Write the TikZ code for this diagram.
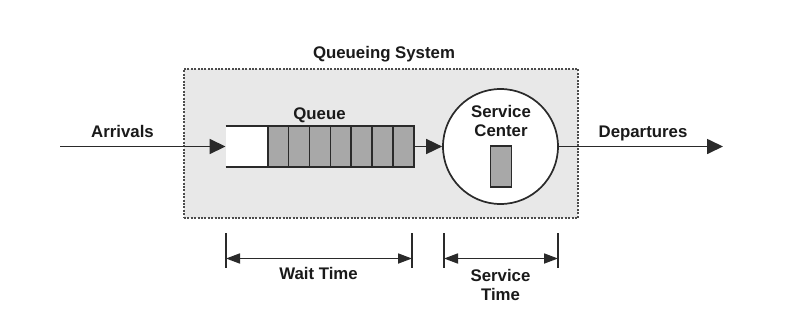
\documentclass[tikz,border=0pt]{standalone}
\usepackage{fontspec}
\setmainfont{Liberation Sans}
\usetikzlibrary{arrows.meta}
\definecolor{boxbg}{HTML}{E8E8E8}
\definecolor{cellgrey}{HTML}{A8A8A8}
\definecolor{linec}{HTML}{2A2A2A}
\definecolor{txtc}{HTML}{1A1A1A}
\tikzset{
  lbl/.style={font=\bfseries\fontsize{16.8}{20}\selectfont, text=txtc, inner sep=0pt, text height=12pt, text depth=0pt},
  mline/.style={draw=linec, line width=1.7pt},
  arr/.style={mline, -{Triangle[length=16pt,width=15pt]}},
  dimarr/.style={mline, {Triangle[length=14pt,width=10pt]}-{Triangle[length=14pt,width=10pt]}},
  cell/.style={draw=linec, fill=cellgrey, line width=1.6pt, minimum width=20.86pt, minimum height=41pt, inner sep=0pt},
}
\begin{document}
\begin{tikzpicture}[x=1pt,y=-1pt]
\useasboundingbox[fill=white] (0,0) rectangle (793,317);
% system box
\node[draw=black!70, fill=boxbg, dash pattern=on 2pt off 1.4pt, line width=2pt, minimum width=394pt, minimum height=149pt, inner sep=0pt] (sys) at (381,143.5) {};
\node[lbl] (systxt) at (384,52) {Queueing System};
% queue
\node[fill=white, minimum width=41.5pt, minimum height=41pt, inner sep=0pt] (qwhite) at (246.5,146.5) {};
\draw[mline] (qwhite.north west) -- (qwhite.north east);
\draw[mline] (qwhite.south west) -- (qwhite.south east);
\foreach \i in {1,...,7} {
  \node[cell] (c\i) at ({267.75+20.86*(\i-0.5)},146.5) {};
}
\node[lbl] (qtxt) at (319.5,113) {Queue};
% service center
\node[circle, draw=linec, fill=white, line width=1.7pt, minimum size=115pt, inner sep=0pt] (sc) at (500.5,146.5) {};
\node[lbl, align=center] (sctxt1) at (501,111) {Service};
\node[lbl, align=center] (sctxt2) at (501,130) {Center};
\node[draw=linec, fill=cellgrey, line width=1.6pt, minimum width=21pt, minimum height=40.5pt, inner sep=0pt] (srv) at (501,166.5) {};
% arrows
\coordinate (astart) at (60,146.5);
\coordinate (dend) at (723,146.5);
\draw[arr] (astart) -- (qwhite.west);
\draw[arr] (c7.east) -- (sc.west);
\draw[arr] (sc.east) -- (dend);
\node[lbl] (arrtxt) at (122.5,131) {Arrivals};
\node[lbl] (deptxt) at (643,131) {Departures};
% dimension lines
\coordinate (w1t) at (226,233); \coordinate (w1b) at (226,268);
\coordinate (w2t) at (412,233); \coordinate (w2b) at (412,268);
\coordinate (s1t) at (444,233); \coordinate (s1b) at (444,268);
\coordinate (s2t) at (558,233); \coordinate (s2b) at (558,268);
\draw[mline] (w1t) -- (w1b);
\draw[mline] (w2t) -- (w2b);
\draw[mline] (s1t) -- (s1b);
\draw[mline] (s2t) -- (s2b);
\coordinate (wa) at (226,258.5); \coordinate (wb) at (412,258.5);
\coordinate (sa) at (444,258.5); \coordinate (sb) at (558,258.5);
\draw[dimarr] (wa) -- (wb);
\draw[dimarr] (sa) -- (sb);
\node[lbl] (wtxt) at (318.5,273) {Wait Time};
\node[lbl] (stxt1) at (500.5,275) {Service};
\node[lbl] (stxt2) at (500.5,294) {Time};
\end{tikzpicture}
\end{document}
